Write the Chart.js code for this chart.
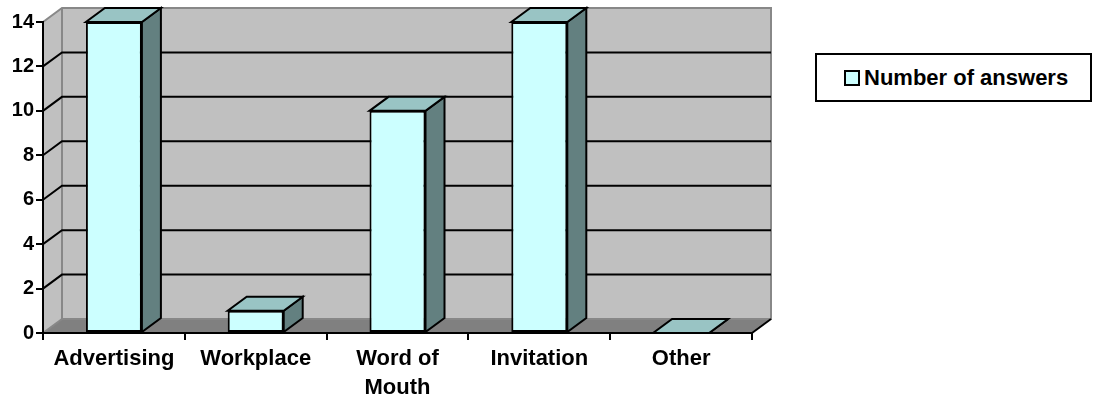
<!DOCTYPE html>
<html>
<head>
<meta charset="utf-8">
<script src="https://cdn.jsdelivr.net/npm/chart.js@4"></script>
<style>
  html, body { margin: 0; padding: 0; background: #fff; }
  #wrap { position: relative; width: 1095px; height: 403px; }
  canvas { position: absolute; left: 0; top: 0; }
  #legend {
    position: absolute; left: 815px; top: 53px; width: 273px; height: 45px;
    border: 2px solid #000; background: #fff;
    font: bold 22px "Liberation Sans", Arial, sans-serif; color: #000;
    display: flex; align-items: center; box-sizing: content-box;
  }
  #legend .sw { display: inline-block; width: 12px; height: 12px; border: 2px solid #000; margin-left: 27px; margin-right: 4px; }
</style>
</head>
<body>
<div id="wrap">
  <canvas id="c" width="1095" height="403"></canvas>
  <div id="legend"><span class="sw" id="sw"></span><span id="lt"></span></div>
</div>
<script>
// ---- data ----
const categories = ['Advertising', 'Workplace', ['Word of', 'Mouth'], 'Invitation', 'Other'];
const seriesName = 'Number of answers';
const answers = [14, 1, 10, 14, 0];
const yTicks = [0, 2, 4, 6, 8, 10, 12, 14];

// ---- styles ----
const FRONT = '#CCFFFF', TOP = '#99C4C4', SIDE = '#638080';
const WALL = '#C0C0C0', FLOOR = '#808080', EDGE = '#888888';
const DX = 19, DY = -14;
const FONT = '"Liberation Sans", Arial, sans-serif';

document.getElementById('sw').style.background = FRONT;
document.getElementById('lt').textContent = seriesName;

function poly(ctx, pts, fill, stroke, lw) {
  ctx.beginPath();
  ctx.moveTo(pts[0][0], pts[0][1]);
  for (let i = 1; i < pts.length; i++) ctx.lineTo(pts[i][0], pts[i][1]);
  ctx.closePath();
  if (fill) { ctx.fillStyle = fill; ctx.fill(); }
  if (stroke) { ctx.strokeStyle = stroke; ctx.lineWidth = lw || 2; ctx.lineJoin = 'miter'; ctx.stroke(); }
}
function line(ctx, pts, color, lw) {
  ctx.beginPath();
  ctx.moveTo(pts[0][0], pts[0][1]);
  for (let i = 1; i < pts.length; i++) ctx.lineTo(pts[i][0], pts[i][1]);
  ctx.strokeStyle = color; ctx.lineWidth = lw || 2; ctx.stroke();
}

const walls3d = {
  id: 'walls3d',
  beforeDraw(chart) {
    const ctx = chart.ctx, a = chart.chartArea, y = chart.scales.y;
    const L = a.left, R = a.right, T = y.getPixelForValue(yTicks[yTicks.length - 1]), B = y.getPixelForValue(0);
    ctx.save();
    poly(ctx, [[L + DX, T + DY], [R + DX, T + DY], [R + DX, B + DY], [L + DX, B + DY]], WALL);
    poly(ctx, [[L, T], [L + DX, T + DY], [L + DX, B + DY], [L, B]], WALL);
    poly(ctx, [[L, B], [R, B], [R + DX, B + DY], [L + DX, B + DY]], FLOOR);
    line(ctx, [[L, T], [L + DX, T + DY], [R + DX, T + DY], [R + DX, B + DY], [L + DX, B + DY], [L + DX, T + DY]], EDGE, 2);
    line(ctx, [[L, B], [L + DX, B + DY]], EDGE, 2);
    yTicks.slice(1, -1).forEach(v => {
      const py = y.getPixelForValue(v);
      line(ctx, [[L, py], [L + DX, py + DY], [R + DX, py + DY]], '#000', 2);
    });
    ctx.restore();
  },
  afterDatasetsDraw(chart) {
    const ctx = chart.ctx, a = chart.chartArea;
    const meta = chart.getDatasetMeta(0);
    ctx.save();
    meta.data.forEach(bar => {
      const p = bar.getProps(['x', 'y', 'base', 'width'], true);
      const l = p.x - p.width / 2, r = p.x + p.width / 2, t = Math.min(p.y, p.base), b = p.base;
      poly(ctx, [[r, t], [r + DX, t + DY], [r + DX, b + DY], [r, b]], SIDE, '#000', 2);
      poly(ctx, [[l, t], [r, t], [r + DX, t + DY], [l + DX, t + DY]], TOP, '#000', 2);
    });
    line(ctx, [[a.right, a.bottom], [a.right + DX, a.bottom + DY]], '#000', 2);
    ctx.restore();
  }
};

new Chart(document.getElementById('c'), {
  type: 'bar',
  data: {
    labels: categories,
    datasets: [{
      label: seriesName,
      data: answers,
      backgroundColor: FRONT,
      borderColor: '#000',
      borderWidth: 2,
      borderSkipped: false,
      categoryPercentage: 1,
      barPercentage: 0.395
    }]
  },
  options: {
    responsive: false,
    animation: false,
    devicePixelRatio: 1,
    layout: { padding: { left: 0, right: 343, top: 22, bottom: 0 } },
    plugins: { legend: { display: false }, tooltip: { enabled: false } },
    scales: {
      x: {
        offset: true,
        afterFit(s) { s.height = 70; },
        grid: { offset: true, drawOnChartArea: false, tickLength: 7, color: '#000', lineWidth: 2 },
        border: { display: true, color: '#000', width: 2 },
        ticks: { color: '#000', font: { family: FONT, size: 22, weight: 'bold', lineHeight: 1.3 }, padding: 5, maxRotation: 0, autoSkip: false }
      },
      y: {
        min: 0, max: 14,
        afterFit(s) { s.width = 43; },
        afterBuildTicks(s) { s.ticks = yTicks.map(v => ({ value: v })); },
        grid: { drawOnChartArea: false, tickLength: 7, color: '#000', lineWidth: 2 },
        border: { display: true, color: '#000', width: 2 },
        ticks: { color: '#000', font: { family: FONT, size: 20, weight: 'bold' }, padding: 2 }
      }
    }
  },
  plugins: [walls3d]
});
</script>
</body>
</html>
